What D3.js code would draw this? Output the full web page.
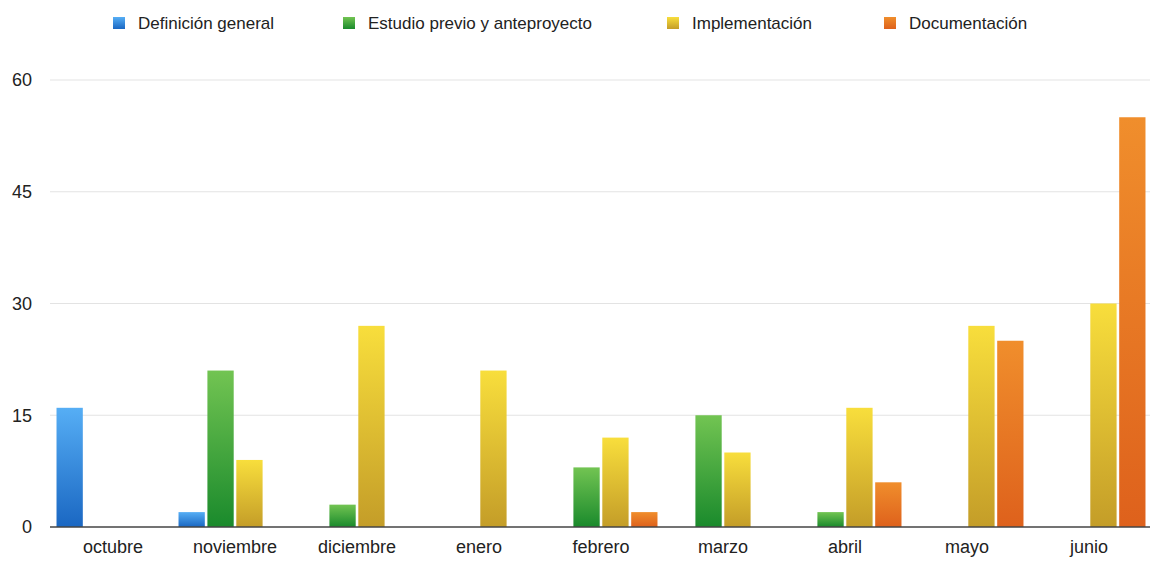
<!DOCTYPE html>
<html>
<head>
<meta charset="utf-8">
<script src="https://cdn.jsdelivr.net/npm/d3@7/dist/d3.min.js"></script>
<style>
  html, body { margin: 0; padding: 0; background: #fff; }
  svg { display: block; font-family: "Liberation Sans", Arial, Helvetica, sans-serif; }
</style>
</head>
<body>
<svg id="chart" width="1150" height="561"></svg>
<script>
// Months shown along the x axis
const months = ["octubre", "noviembre", "diciembre", "enero", "febrero", "marzo", "abril", "mayo", "junio"];

// Project phases (series)
const seriesNames = ["Definición general", "Estudio previo y anteproyecto", "Implementación", "Documentación"];

// Values per month for each phase
const definicion     = [16, 2, 0, 0, 0, 0, 0, 0, 0];
const estudio        = [0, 21, 3, 0, 8, 15, 2, 0, 0];
const implementacion = [0, 9, 27, 21, 12, 10, 16, 27, 30];
const documentacion  = [0, 0, 0, 0, 2, 0, 6, 25, 55];

const yTicks = [0, 15, 30, 45, 60];

// Gradient stops (top, bottom) for each phase
const palette = [
  ["#56aef5", "#1a67c2"],
  ["#72c452", "#1a8a2c"],
  ["#f8de3c", "#c49d28"],
  ["#f08e2c", "#de611c"]
];

const seriesValues = [definicion, estudio, implementacion, documentacion];

const svg = d3.select("#chart");
const defs = svg.append("defs");
palette.forEach((c, i) => {
  const g = defs.append("linearGradient")
    .attr("id", "grad" + i).attr("x1", 0).attr("y1", 0).attr("x2", 0).attr("y2", 1);
  g.append("stop").attr("offset", "0%").attr("stop-color", c[0]);
  g.append("stop").attr("offset", "100%").attr("stop-color", c[1]);
});

const plot = { left: 52, right: 1150, top: 80, bottom: 527 };

const x0 = d3.scaleBand().domain(months).range([plot.left, plot.right])
  .paddingInner(0.074).paddingOuter(0.037);
const x1 = d3.scaleBand().domain(d3.range(seriesNames.length)).range([0, x0.bandwidth()])
  .paddingInner(0.09).paddingOuter(0);
const y = d3.scaleLinear().domain([0, 60]).range([plot.bottom, plot.top]);

// Horizontal gridlines
svg.append("g").selectAll("line").data(yTicks.filter(d => d > 0)).join("line")
  .attr("x1", 50).attr("x2", 1150)
  .attr("y1", d => y(d)).attr("y2", d => y(d))
  .attr("stroke", "#e3e3e3").attr("stroke-width", 1);

// Y tick labels
svg.append("g").selectAll("text").data(yTicks).join("text")
  .attr("x", 32).attr("y", d => y(d))
  .attr("dy", "0.35em").attr("text-anchor", "end")
  .attr("font-size", 18).attr("fill", "#222")
  .text(d => d);

// Bars
const groups = svg.append("g").selectAll("g").data(months).join("g")
  .attr("transform", d => `translate(${x0(d)},0)`);

groups.selectAll("rect")
  .data((m, mi) => seriesValues.map((vals, si) => ({ si, v: vals[mi] })).filter(d => d.v > 0))
  .join("rect")
  .attr("x", d => x1(d.si))
  .attr("width", x1.bandwidth())
  .attr("y", d => y(d.v))
  .attr("height", d => y(0) - y(d.v))
  .attr("fill", d => `url(#grad${d.si})`);

// Baseline
svg.append("line")
  .attr("x1", 50).attr("x2", 1150)
  .attr("y1", y(0)).attr("y2", y(0))
  .attr("stroke", "#444").attr("stroke-width", 1.5);

// Month labels
svg.append("g").selectAll("text").data(months).join("text")
  .attr("x", d => x0(d) + x0.bandwidth() / 2)
  .attr("y", 553)
  .attr("text-anchor", "middle")
  .attr("font-size", 18).attr("fill", "#222")
  .text(d => d);

// Legend
const legendX = [113, 343, 667, 884];
const legend = svg.append("g").selectAll("g").data(seriesNames).join("g")
  .attr("transform", (d, i) => `translate(${legendX[i]},17)`);
legend.append("rect").attr("width", 12).attr("height", 12)
  .attr("fill", (d, i) => `url(#grad${i})`);
legend.append("text").attr("x", 25).attr("y", 6).attr("dy", "0.35em")
  .attr("font-size", 17).attr("fill", "#222")
  .text(d => d);
</script>
</body>
</html>
